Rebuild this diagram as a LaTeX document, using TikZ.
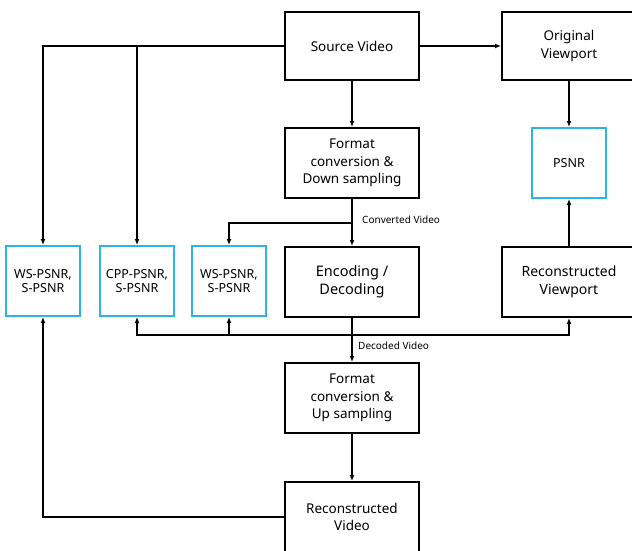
\documentclass[tikz,border=0pt]{standalone}
\usepackage{fontspec}
\setmainfont{Noto Sans}
\usetikzlibrary{arrows.meta}
\definecolor{cyanbox}{HTML}{2FB3E3}
\begin{document}
\begin{tikzpicture}[x=1pt,y=-1pt,
  bigbox/.style={draw, line width=2pt, minimum width=134pt, align=center, inner sep=2pt, font=\fontsize{13.5}{17.5}\selectfont},
  qbox/.style={draw=cyanbox, line width=2pt, minimum width=74pt, minimum height=70pt, align=center, inner sep=2pt, font=\fontsize{12.5}{14}\selectfont},
  arr/.style={line width=2pt, -{Latex[length=6pt,width=5pt]}},
  lbl/.style={font=\fontsize{10}{12}\selectfont, anchor=west, inner sep=1pt}]
\useasboundingbox (0,0) rectangle (632,551);
\node[bigbox, minimum height=68pt] (src) at (352,46) {Source Video};
\node[bigbox, minimum height=68pt] (ovp) at (569,46) {Original\\Viewport};
\node[bigbox, minimum height=70pt] (fmtd) at (352,163) {Format\\conversion \&\\Down sampling};
\node[qbox] (psnr) at (569,163) {PSNR};
\node[bigbox, minimum height=70pt, font=\fontsize{14.5}{18}\selectfont] (enc) at (352,282) {Encoding /\\Decoding};
\node[bigbox, minimum height=70pt, font=\fontsize{14}{18}\selectfont] (rvp) at (569,282) {Reconstructed\\Viewport};
\node[qbox] (ws1) at (43,281) {WS-PSNR,\\S-PSNR};
\node[qbox] (cpp) at (137,281) {CPP-PSNR,\\S-PSNR};
\node[qbox] (ws3) at (229,281) {WS-PSNR,\\S-PSNR};
\node[bigbox, minimum height=70pt] (fmtu) at (352,398) {Format\\conversion \&\\Up sampling};
\node[bigbox, minimum height=70pt] (recv) at (352,517) {Reconstructed\\Video};
\coordinate (cv) at (352,223);
\coordinate (dv) at (352,335);
\draw[arr] (src.west) -| (ws1.north);
\draw[arr] (cpp.north |- src.west) -- (cpp.north);
\draw[arr] (src.east) -- (ovp.west);
\draw[arr] (src.south) -- (fmtd.north);
\draw[arr] (ovp.south) -- (psnr.north);
\draw[arr] (fmtd.south) -- (enc.north);
\draw[arr] (cv) -| (ws3.north);
\node[lbl] at (361,220) {Converted Video};
\draw[arr] (enc.south) -- (fmtu.north);
\draw[arr] (dv) -| (cpp.south);
\draw[arr] (dv) -| (ws3.south);
\draw[arr] (dv) -| (rvp.south);
\node[lbl] at (357,346) {Decoded Video};
\draw[arr] (rvp.north) -- (psnr.south);
\draw[arr] (fmtu.south) -- (recv.north);
\draw[arr] (recv.west) -| (ws1.south);
\end{tikzpicture}
\end{document}
